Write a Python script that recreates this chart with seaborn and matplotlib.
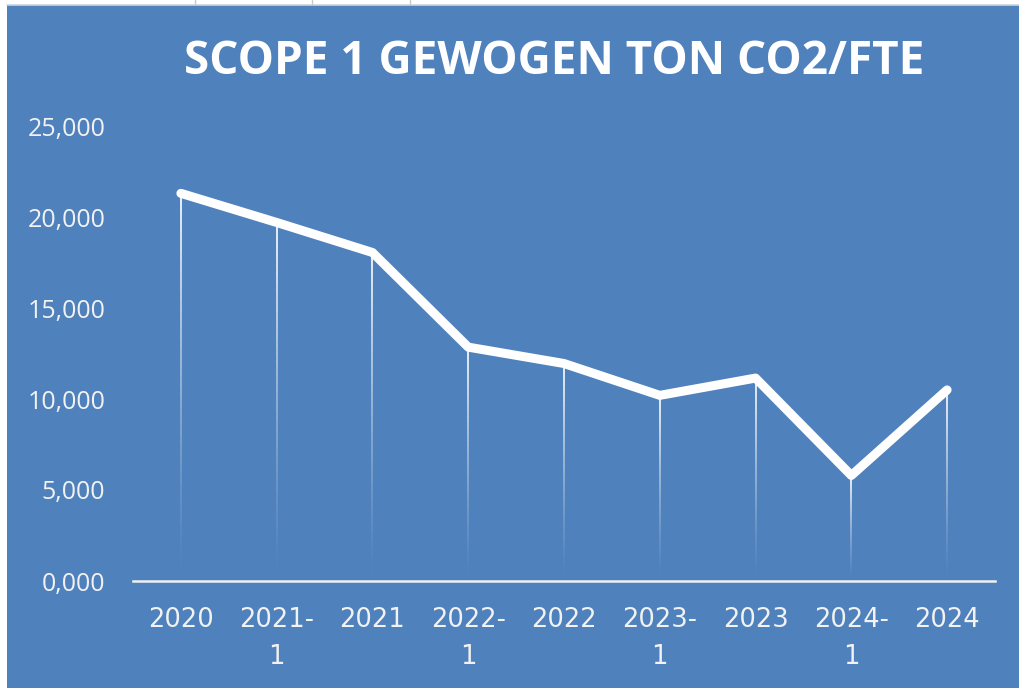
import matplotlib
matplotlib.use("Agg")
import matplotlib.pyplot as plt
from matplotlib.patches import Rectangle
import pandas as pd
import seaborn as sns

# data (ton CO2 per FTE, Dutch decimal comma)
periods = ["2020", "2021-\n1", "2021", "2022-\n1", "2022",
           "2023-\n1", "2023", "2024-\n1", "2024"]
ton_co2_per_fte = [21.3, 19.7, 18.05, 12.85, 11.95, 10.2, 11.15, 5.8, 10.5]
y_ticks = [0, 5, 10, 15, 20, 25]
y_tick_labels = ["0,000", "5,000", "10,000", "15,000", "20,000", "25,000"]
title = "SCOPE 1 GEWOGEN TON CO2/FTE"

BLUE = "#4F81BD"


def main():
    sns.set_style("white")
    plt.rcParams["font.family"] = ["Open Sans", "DejaVu Sans"]

    df = pd.DataFrame({"periode": periods, "waarde": ton_co2_per_fte})

    fig = plt.figure(figsize=(10.2, 6.88), dpi=100)
    fig.patch.set_facecolor("white")

    # blue chart area with a thin white page strip at the top and left
    bg = fig.add_axes([0, 0, 1, 1], zorder=-5)
    bg.set_axis_off()
    bg.set_xlim(0, 1020)
    bg.set_ylim(688, 0)
    bg.add_patch(Rectangle((7, 5), 1020, 690, facecolor=BLUE, edgecolor="none"))
    bg.plot([7, 1020], [4.5, 4.5], color="#c9d3df", lw=1.2)
    for gx in [195, 312, 410]:
        bg.plot([gx, gx], [0, 4], color="#c9c9c9", lw=1)

    ax = fig.add_axes([133 / 1020, 107 / 688, 862 / 1020, 455 / 688])
    ax.set_facecolor("none")

    # drop lines fading out toward the axis
    n_steps = 40
    for i, v in enumerate(df["waarde"]):
        for k in range(n_steps):
            a = ((k + 0.5) / n_steps) ** 1.3 * 0.9
            ax.vlines(i, v * k / n_steps, v * (k + 1) / n_steps,
                      color="white", alpha=a, lw=1.4, zorder=1)

    sns.lineplot(data=df, x="periode", y="waarde", ax=ax, color="white",
                 linewidth=6.5, solid_capstyle="round", solid_joinstyle="round",
                 sort=False, zorder=3)

    ax.set_xlim(-0.5, len(periods) - 0.5)
    ax.set_ylim(0, 25)
    ax.set_yticks(y_ticks)
    ax.set_yticklabels(y_tick_labels)
    ax.set_xticks(range(len(periods)))
    ax.set_xticklabels(periods, linespacing=1.52)
    ax.set_xlabel("")
    ax.set_ylabel("")

    for s in ["top", "right", "left"]:
        ax.spines[s].set_visible(False)
    ax.spines["bottom"].set_color("#f0f0f0")
    ax.spines["bottom"].set_linewidth(1.8)

    ax.tick_params(axis="y", length=0, pad=20, labelsize=18, labelcolor="#f2f2f2")
    ax.tick_params(axis="x", length=0, pad=19, labelsize=18.5, labelcolor="#f2f2f2")
    for lbl in ax.get_xticklabels():
        lbl.set_ha("center")
        lbl.set_family(["DejaVu Sans"])

    fig.text(554 / 1020, 1 - 61 / 688, title, ha="center", va="center",
             color="white", fontsize=33, fontweight="bold")

    fig.savefig("out.png", dpi=100, facecolor=fig.get_facecolor())
    plt.close(fig)


if __name__ == "__main__":
    main()
